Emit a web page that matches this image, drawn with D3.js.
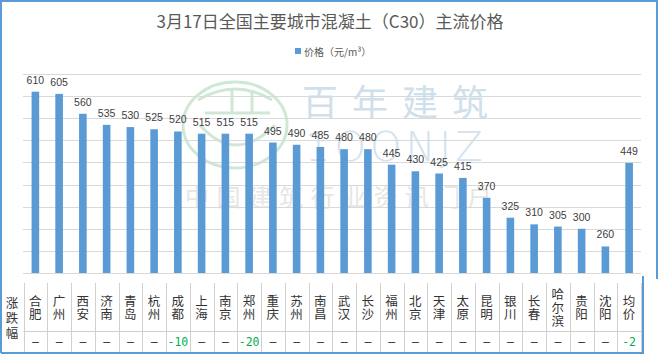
<!DOCTYPE html>
<html>
<head>
<meta charset="utf-8">
<script src="https://cdn.jsdelivr.net/npm/d3@7/dist/d3.min.js"></script>
<style>
  html, body { margin: 0; padding: 0; background: #fff; }
  svg { display: block; }
</style>
</head>
<body>
<svg id="chart" width="660" height="355"></svg>
<script>
const titleText = "3月17日全国主要城市混凝土（C30）主流价格";
const legendLabel = "价格（元/m³）";
const cities = ["合肥","广州","西安","济南","青岛","杭州","成都","上海","南京","郑州","重庆","苏州","南昌","武汉","长沙","福州","北京","天津","太原","昆明","银川","长春","哈尔滨","贵阳","沈阳","均价"];
const prices = [610,605,560,535,530,525,520,515,515,515,495,490,485,480,480,445,430,425,415,370,325,310,305,300,260,449];
const changes = ["–","–","–","–","–","–","-10","–","–","-20","–","–","–","–","–","–","–","–","–","–","–","–","–","–","–","-2"];
const rowLabel = "涨跌幅";
const yTicks = [250,300,350,400,450,500,550,600,650];

const svg = d3.select("#chart");
const FONT = "'Noto Sans CJK SC', 'Noto Sans', sans-serif";
const NUMFONT = "'Liberation Sans', Arial, sans-serif";

const x = d3.scaleBand().domain(cities).range([23.5, 641]).paddingInner(0.68).paddingOuter(0.34);
const y = d3.scaleLinear().domain([200, 650]).range([273, 74]);
const step = x.step();
const x0 = 23.5;

// watermark
const wm = svg.append("g").attr("class", "watermark");
wm.append("ellipse").attr("cx", 235).attr("cy", 125).attr("rx", 52).attr("ry", 43)
  .attr("fill", "none").attr("stroke", "#cfe8d6").attr("stroke-width", 3);
wm.append("path").attr("d", "M198,100 Q235,78 272,100").attr("fill","none").attr("stroke","#cfe8d6").attr("stroke-width",3);
wm.append("path").attr("d", "M232,90 L232,112 M252,90 L252,112 M205,113 L270,113").attr("fill","none").attr("stroke","#cfe8d6").attr("stroke-width",3);
wm.append("path").attr("d", "M200,125 Q235,165 275,125").attr("fill","none").attr("stroke","#cfe8d6").attr("stroke-width",3);
wm.append("text").attr("x", 302).attr("y", 116).attr("font-family", FONT).attr("font-size", 36)
  .attr("letter-spacing", 14).attr("fill", "#cfdfec").text("百年建筑");
wm.append("text").attr("x", 305).attr("y", 161).attr("font-family", "'DejaVu Sans', sans-serif").attr("font-size", 40)
  .attr("font-weight", 200).attr("letter-spacing", 4).attr("fill", "#d3e2ee").text("1OONJZ");
wm.append("text").attr("x", 185).attr("y", 206).attr("font-family", FONT).attr("font-size", 24)
  .attr("letter-spacing", 7.4).attr("fill", "#e6e6e6").text("中国建筑行业资讯门户");

// gridlines
svg.append("g").selectAll("line").data(yTicks).join("line")
  .attr("x1", 23).attr("x2", 641)
  .attr("y1", d => Math.round(y(d)) + 0.5).attr("y2", d => Math.round(y(d)) + 0.5)
  .attr("stroke", "#d9d9d9").attr("stroke-width", 1);
// axis line
svg.append("line").attr("x1", 23).attr("x2", 641)
  .attr("y1", Math.round(y(200)) + 0.5).attr("y2", Math.round(y(200)) + 0.5)
  .attr("stroke", "#d9d9d9");

// bars
svg.append("g").selectAll("rect").data(cities).join("rect")
  .attr("x", d => x(d)).attr("width", x.bandwidth())
  .attr("y", (d, i) => y(prices[i])).attr("height", (d, i) => y(200) - y(prices[i]))
  .attr("fill", "#5b9bd5");

// labels
svg.append("g").selectAll("text").data(cities).join("text")
  .attr("x", d => x(d) + x.bandwidth() / 2)
  .attr("y", (d, i) => y(prices[i]) - 8)
  .attr("text-anchor", "middle").attr("font-family", NUMFONT).attr("font-size", 10.5)
  .attr("fill", "#404040").text((d, i) => prices[i]);

// title
svg.append("text").attr("x", 330).attr("y", 28).attr("text-anchor", "middle")
  .attr("font-family", FONT).attr("font-size", 17).attr("fill", "#595959").text(titleText);

// legend
svg.append("rect").attr("x", 295).attr("y", 48).attr("width", 6).attr("height", 6).attr("fill", "#5b9bd5");
svg.append("text").attr("x", 304).attr("y", 55.5).attr("font-family", FONT).attr("font-size", 10)
  .attr("fill", "#595959").text(legendLabel);

// table
const tTop = 283, tMid = 331, tBot = 352;
const tg = svg.append("g");
tg.selectAll("line.v").data(d3.range(cities.length + 1)).join("line")
  .attr("x1", i => Math.round(x0 + i * step) + 0.5).attr("x2", i => Math.round(x0 + i * step) + 0.5)
  .attr("y1", tTop).attr("y2", tBot).attr("stroke", "#d0d0d0");
tg.append("line").attr("x1", x0).attr("x2", x0 + cities.length * step)
  .attr("y1", tMid + 0.5).attr("y2", tMid + 0.5).attr("stroke", "#d0d0d0");

// city names stacked vertically
cities.forEach((c, i) => {
  const chars = Array.from(c);
  const cx = x(c) + x.bandwidth() / 2;
  const sp = 13.5;
  const start = 308 - (chars.length - 1) * sp / 2;
  chars.forEach((ch, j) => {
    tg.append("text").attr("x", cx).attr("y", start + j * sp).attr("dy", "0.36em")
      .attr("text-anchor", "middle").attr("font-family", FONT).attr("font-size", 12.5)
      .attr("fill", "#333").text(ch);
  });
  const v = changes[i];
  tg.append("text").attr("x", cx).attr("y", 342).attr("dy", "0.36em")
    .attr("text-anchor", "middle").attr("font-family", "'DejaVu Sans Mono', monospace").attr("font-size", 11.5)
    .attr("fill", v === "–" ? "#333" : "#00b050").text(v);
});
// row label
Array.from(rowLabel).forEach((ch, j) => {
  tg.append("text").attr("x", 12).attr("y", 303 + j * 15).attr("dy", "0.36em")
    .attr("text-anchor", "middle").attr("font-family", FONT).attr("font-size", 12.5)
    .attr("fill", "#333").text(ch);
});

// frame
svg.append("path")
  .attr("d", "M1,353 L1,1 L657,1 L657,279")
  .attr("fill", "none").attr("stroke", "#5b9bd5").attr("stroke-width", 2);
svg.append("path")
  .attr("d", "M1,353 L643,353 L643,276")
  .attr("fill", "none").attr("stroke", "#5b9bd5").attr("stroke-width", 2);
</script>
</body>
</html>
